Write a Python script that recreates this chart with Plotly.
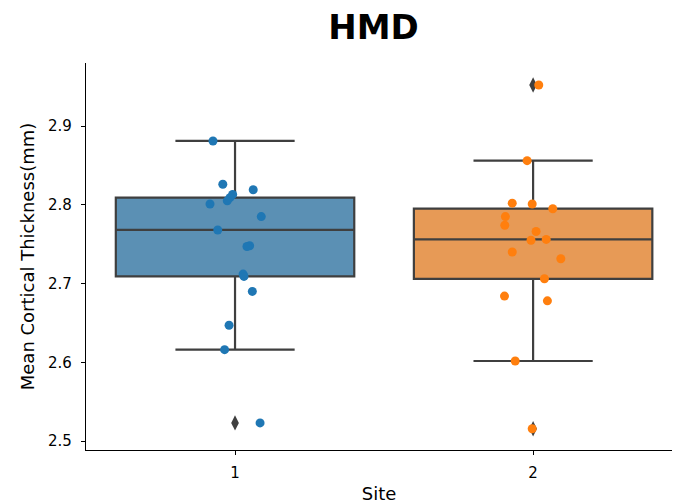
import numpy as np
import plotly.graph_objects as go

title = "HMD"
sites = ["1", "2"]
x_label = "Site"
y_label = "Mean Cortical Thickness(mm)"

site1_values = [2.881, 2.826, 2.819, 2.813, 2.809, 2.805, 2.801, 2.785, 2.768,
                2.748, 2.747, 2.712, 2.709, 2.690, 2.647, 2.616, 2.523]
site1_jitter = [-0.074, -0.041, 0.061, -0.008, -0.017, -0.026, -0.084, 0.088, -0.058,
                0.049, 0.040, 0.027, 0.030, 0.058, -0.020, -0.035, 0.084]

site2_values = [2.952, 2.856, 2.802, 2.801, 2.795, 2.785, 2.774, 2.766, 2.755,
                2.756, 2.740, 2.7315, 2.706, 2.684, 2.678, 2.6016, 2.5156]
site2_jitter = [0.019, -0.020, -0.070, -0.003, 0.066, -0.093, -0.095, 0.010, -0.007,
                0.044, -0.070, 0.093, 0.038, -0.096, 0.048, -0.060, -0.003]

values = [site1_values, site2_values]
jitters = [site1_jitter, site2_jitter]
box_fill = ["rgba(50,116,161,0.8)", "rgba(225,129,44,0.8)"]
point_color = ["#1f77b4", "#ff7f0e"]
line_color = "#3f3f3f"
FONT = "DejaVu Sans"

fig = go.Figure()

for i, vals in enumerate(values):
    arr = np.array(vals)
    q1, med, q3 = np.percentile(arr, [25, 50, 75])
    iqr = q3 - q1
    lo_lim, hi_lim = q1 - 1.5 * iqr, q3 + 1.5 * iqr
    inside = arr[(arr >= lo_lim) & (arr <= hi_lim)]
    outl = arr[(arr < lo_lim) | (arr > hi_lim)]
    fig.add_trace(go.Box(
        x=[i], q1=[q1], median=[med], q3=[q3],
        lowerfence=[inside.min()], upperfence=[inside.max()],
        width=0.8, whiskerwidth=0.5,
        fillcolor=box_fill[i],
        line=dict(color=line_color, width=2.2),
        boxpoints=False, showlegend=False, hoverinfo="skip",
    ))
    fig.add_trace(go.Scatter(
        x=[i] * len(outl), y=outl, mode="markers",
        marker=dict(symbol="diamond-tall", size=11, color=line_color),
        showlegend=False,
    ))

for i, vals in enumerate(values):
    xs = [i + j for j in jitters[i]]
    fig.add_trace(go.Scatter(
        x=xs, y=vals, mode="markers",
        marker=dict(size=9, color=point_color[i], line=dict(width=0)),
        showlegend=False,
    ))

fig.update_layout(
    width=673, height=504,
    margin=dict(l=86, r=1, t=63, b=54),
    paper_bgcolor="white", plot_bgcolor="white",
    font=dict(family=FONT, size=15, color="black"),
    title=dict(text="<b>" + title + "</b>", x=373.5 / 673, xanchor="center",
               y=1 - 27 / 504, yanchor="middle",
               font=dict(family=FONT, size=34, color="black")),
    xaxis=dict(range=[-0.5, 1.466], tickvals=[0, 1], ticktext=sites,
               showgrid=False, zeroline=False, showline=True, linecolor="black",
               linewidth=1.2, ticks="outside", ticklen=4, tickcolor="black",
               ticklabelstandoff=5,
               title=dict(text=x_label, standoff=6), tickfont=dict(size=15)),
    yaxis=dict(range=[2.4886, 2.98], tickvals=[2.5, 2.6, 2.7, 2.8, 2.9],
               ticktext=["2.5", "2.6", "2.7", "2.8", "2.9"],
               showgrid=False, zeroline=False, showline=True, linecolor="black",
               linewidth=1.2, ticks="outside", ticklen=4, tickcolor="black",
               ticklabelstandoff=6,
               title=dict(text=y_label, standoff=8), tickfont=dict(size=15)),
)

fig.write_html("out.html")
